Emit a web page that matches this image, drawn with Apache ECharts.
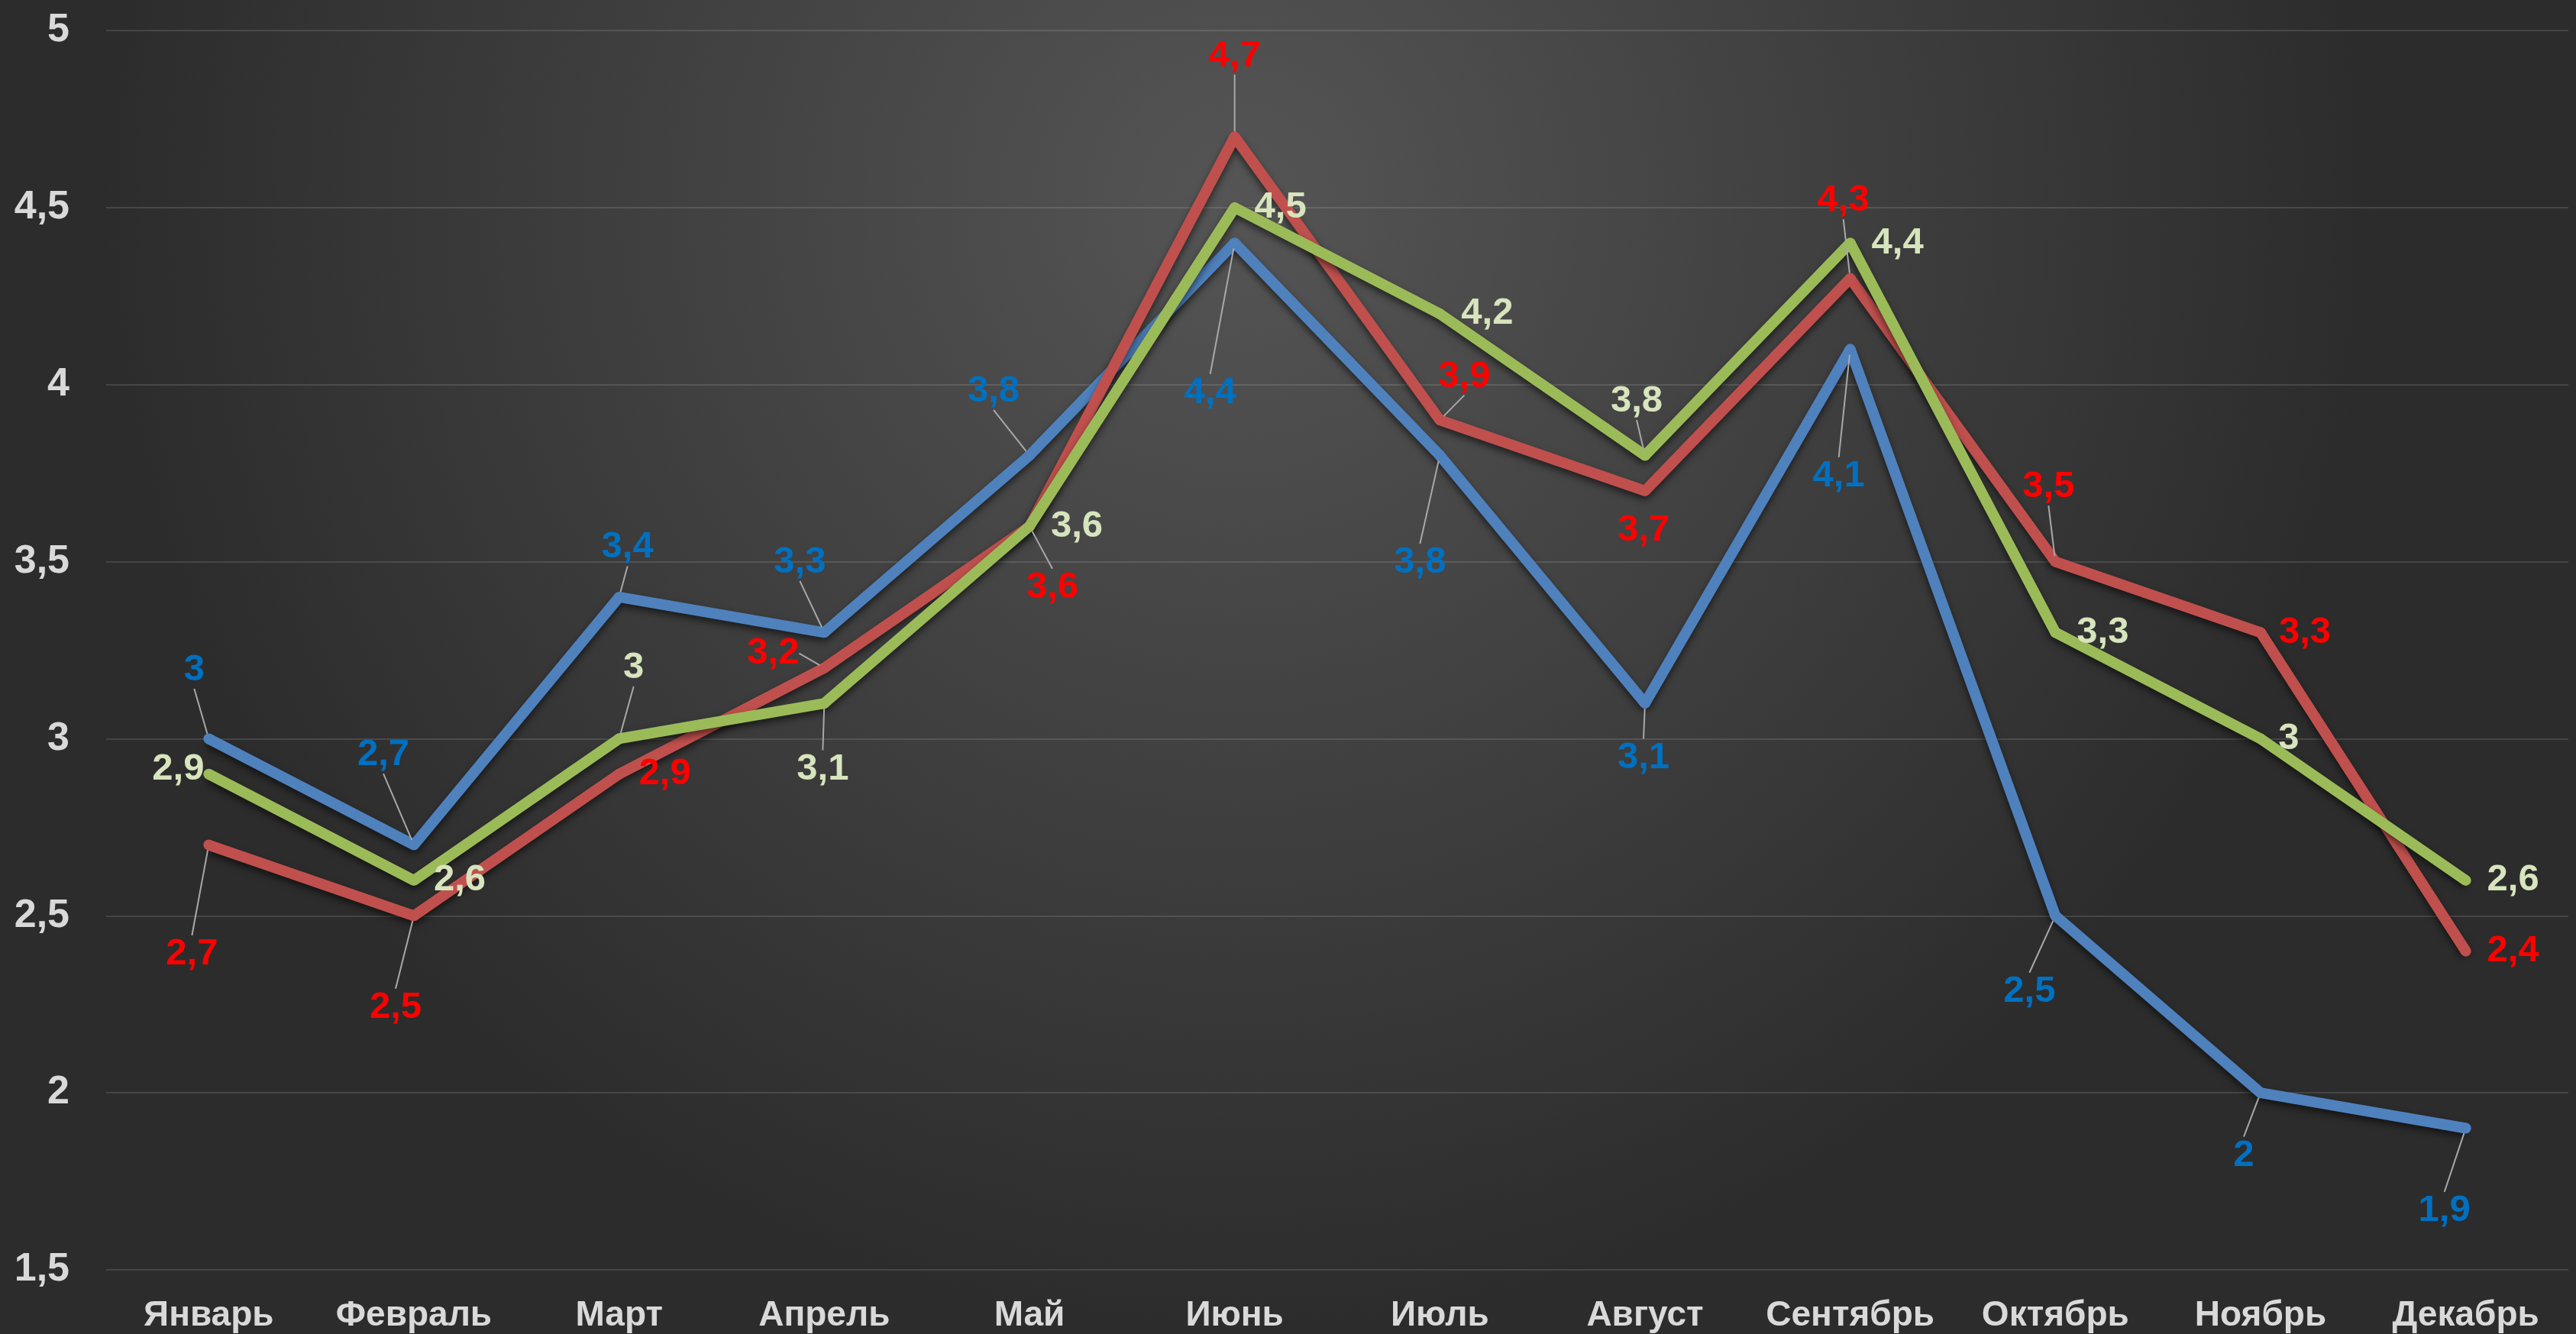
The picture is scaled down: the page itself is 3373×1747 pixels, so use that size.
<!DOCTYPE html>
<html>
<head>
<meta charset="utf-8">
<style>
  html, body { margin: 0; padding: 0; }
  #main { width: 3373px; height: 1747px; }
</style>
<script src="https://cdn.jsdelivr.net/npm/echarts@6/dist/echarts.min.js"></script>
</head>
<body>
<div id="main"></div>
<script>
// 数据
var months = ['Январь', 'Февраль', 'Март', 'Апрель', 'Май', 'Июнь', 'Июль', 'Август', 'Сентябрь', 'Октябрь', 'Ноябрь', 'Декабрь'];
var blueValues = [3, 2.7, 3.4, 3.3, 3.8, 4.4, 3.8, 3.1, 4.1, 2.5, 2, 1.9];
var redValues = [2.7, 2.5, 2.9, 3.2, 3.6, 4.7, 3.9, 3.7, 4.3, 3.5, 3.3, 2.4];
var greenValues = [2.9, 2.6, 3, 3.1, 3.6, 4.5, 4.2, 3.8, 4.4, 3.3, 3, 2.6];
var yTicks = { min: 1.5, max: 5, step: 0.5 };

// 标签相对点的偏移（像素）
var blueOff = [[-19, -90], [-40, -118], [11, -65], [-32, -92], [-47, -84], [-32, 196], [-26, 140], [-2, 71], [-15, 166], [-34, 99], [-22, 82], [-28, 108]];
var redOff = [[-22, 143], [-24, 120], [60, 0], [-67, -19], [30, 80], [0, -106], [32, -57], [-2, 52], [-9, -102], [-9, -98], [58, 0], [62, 0]];
var greenOff = [[-40, -6], [60, 0], [19, -93], [-2, 86], [62, 0], [60, 0], [62, 0], [-11, -71], [62, 0], [62, 0], [37, 0], [62, 0]];

function comma(v) {
  return String(v).replace('.', ',');
}

function makeSeries(name, values, offs, lineColor, labelColor) {
  var data = values.map(function (v, i) {
    var d = Math.sqrt(offs[i][0] * offs[i][0] + offs[i][1] * offs[i][1]);
    return { value: v, labelLine: { show: d > 64 } };
  });
  return {
    name: name,
    type: 'line',
    data: data,
    symbol: 'circle',
    symbolSize: 14,
    itemStyle: { color: lineColor },
    lineStyle: {
      color: lineColor,
      width: 14,
      shadowColor: 'rgba(0,0,0,0.55)',
      shadowBlur: 10,
      shadowOffsetY: 5
    },
    label: {
      show: true,
      color: labelColor,
      fontSize: 49,
      fontWeight: 'bold',
      fontFamily: 'Liberation Sans, Arial, sans-serif',
      formatter: function (p) { return comma(p.value); }
    },
    labelLine: {
      show: true,
      lineStyle: { color: '#a8a8a8', width: 2 }
    },
    labelLayout: function (p) {
      var o = offs[p.dataIndex];
      return {
        x: p.rect.x + p.rect.width / 2 + o[0],
        y: p.rect.y + p.rect.height / 2 + o[1],
        align: 'center',
        verticalAlign: 'middle'
      };
    },
    emphasis: { disabled: true },
    animation: false
  };
}

(function () {
  var myChart = echarts.init(document.getElementById('main'));
  var option = {
    backgroundColor: new echarts.graphic.RadialGradient(0.48, 0.15, 0.85, [
      { offset: 0, color: '#555555' },
      { offset: 1, color: '#2c2c2c' }
    ]),
    grid: {
      left: 139,
      right: 10,
      top: 40,
      bottom: 84
    },
    xAxis: {
      type: 'category',
      data: months,
      boundaryGap: true,
      axisLine: { show: false },
      axisTick: { show: false },
      axisLabel: {
        interval: 0,
        color: '#d9d9d9',
        fontSize: 46,
        fontWeight: 'bold',
        fontFamily: 'Liberation Sans, Arial, sans-serif',
        margin: 37
      }
    },
    yAxis: {
      type: 'value',
      min: yTicks.min,
      max: yTicks.max,
      interval: yTicks.step,
      axisLine: { show: false },
      axisTick: { show: false },
      axisLabel: {
        color: '#d9d9d9',
        fontSize: 52,
        fontWeight: 'bold',
        fontFamily: 'Liberation Sans, Arial, sans-serif',
        margin: 48,
        formatter: comma
      },
      splitLine: {
        lineStyle: { color: 'rgba(255,255,255,0.12)', width: 2 }
      }
    },
    series: [
      makeSeries('Ряд 1', blueValues, blueOff, '#4f81bd', '#0070c0'),
      makeSeries('Ряд 2', redValues, redOff, '#c0504d', '#ff0000'),
      makeSeries('Ряд 3', greenValues, greenOff, '#9bbb59', '#d7e4bd')
    ]
  };
  myChart.setOption(option);
  window.addEventListener('resize', function () {
    myChart.resize();
  });
})();
</script>
</body>
</html>
